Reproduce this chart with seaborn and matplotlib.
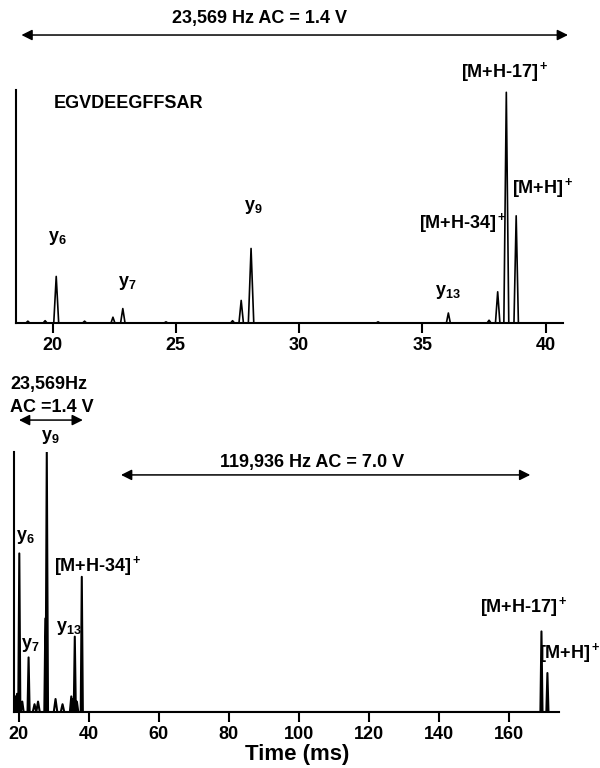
import pandas as pd
import matplotlib
matplotlib.use("Agg")
import matplotlib.pyplot as plt
import seaborn as sns

sns.set_theme(style="white")
plt.rcParams["font.family"] = ["Liberation Sans", "DejaVu Sans"]
plt.rcParams["font.weight"] = "bold"
plt.rcParams["text.color"] = "black"
plt.rcParams["axes.labelcolor"] = "black"
plt.rcParams["mathtext.fontset"] = "custom"
plt.rcParams["mathtext.rm"] = "Liberation Sans:bold"
plt.rcParams["mathtext.it"] = "Liberation Sans:bold"
plt.rcParams["mathtext.bf"] = "Liberation Sans:bold"
plt.rcParams["mathtext.default"] = "rm"

# Single-frequency excitation (23,569 Hz, 1.4 V): peak centroids (ms), heights (%), half widths (ms)
top_time = [19.0, 19.7, 20.15, 21.3, 22.45, 22.85, 24.6, 27.3, 27.65, 28.05,
            33.2, 36.05, 37.7, 38.05, 38.4, 38.8]
top_height = [0.8, 1.0, 20.0, 0.8, 2.5, 6.2, 0.5, 1.0, 9.7, 32.0,
              0.5, 4.3, 1.2, 13.4, 99.0, 46.0]
top_width = [0.08, 0.08, 0.1, 0.08, 0.08, 0.09, 0.08, 0.08, 0.09, 0.11,
             0.08, 0.08, 0.08, 0.09, 0.1, 0.09]

# Two-frequency excitation (23,569 Hz then 119,936 Hz, 7.0 V)
bot_time = [19.0, 19.5, 20.15, 21.0, 22.8, 24.5, 25.5, 27.6, 28.0, 30.5,
            32.5, 35.0, 35.5, 36.0, 36.6, 38.0, 169.3, 171.0]
bot_height = [6.0, 7.0, 61.0, 4.0, 21.0, 3.0, 4.0, 36.0, 100.0, 5.0,
              3.0, 6.0, 5.0, 29.0, 4.0, 52.0, 31.0, 15.0]
bot_width = [0.35, 0.35, 0.3, 0.4, 0.3, 0.5, 0.5, 0.3, 0.35, 0.5,
             0.5, 0.4, 0.4, 0.3, 0.4, 0.3, 0.3, 0.3]

top_ticks = [20, 25, 30, 35, 40]
bot_ticks = [20, 40, 60, 80, 100, 120, 140, 160]


def trace(times, heights, widths):
    """Polyline through baseline-apex-baseline vertices for each peak."""
    xs, ys = [], []
    for t, h, w in zip(times, heights, widths):
        xs += [t - w, t, t + w]
        ys += [0.0, h, 0.0]
    return pd.DataFrame({"time": xs, "intensity": ys})


fig = plt.figure(figsize=(6.0, 7.68), dpi=100)
ax1 = fig.add_axes([0.0267, 0.5794, 0.9117, 0.3034])
ax2 = fig.add_axes([0.0233, 0.0729, 0.9083, 0.3385])

for ax, df, xlim, ticks, lw in [
    (ax1, trace(top_time, top_height, top_width), (18.52, 40.7), top_ticks, 1.2),
    (ax2, trace(bot_time, bot_height, bot_width), (18.63, 174.3), bot_ticks, 1.5),
]:
    sns.lineplot(data=df, x="time", y="intensity", sort=False, estimator=None,
                 color="black", lw=lw, ax=ax)
    ax.set_xlim(*xlim)
    ax.set_ylim(0, 100)
    ax.set_xticks(ticks)
    ax.set_xticklabels([str(t) for t in ticks])
    ax.set_yticks([])
    ax.set_xlabel("")
    ax.set_ylabel("")
    for side in ("top", "right"):
        ax.spines[side].set_visible(False)
    for side in ("left", "bottom"):
        ax.spines[side].set_color("black")
        ax.spines[side].set_linewidth(1.5)
    ax.tick_params(axis="x", direction="out", length=7, width=1.5,
                   labelsize=13, pad=3, colors="black", bottom=True)
    for lbl in ax.get_xticklabels():
        lbl.set_fontweight("bold")

arrow = dict(arrowstyle="<|-|>", lw=1.1, color="black",
             mutation_scale=16, shrinkA=0, shrinkB=0)
fs = 13

# Upper panel annotations
ax1.annotate("", xy=(18.74, 123.6), xytext=(40.9, 123.6),
             arrowprops=arrow, annotation_clip=False)
ax1.text(28.38, 130.5, "23,569 Hz AC = 1.4 V", ha="center", va="center",
         fontsize=fs, fontweight="bold")
ax1.text(20.06, 94.0, "EGVDEEGFFSAR", ha="left", va="center",
         fontsize=fs, fontweight="bold")
ax1.text(20.18, 36.5, r"y$_6$", ha="center", va="center", fontsize=fs)
ax1.text(23.02, 17.2, r"y$_7$", ha="center", va="center", fontsize=fs)
ax1.text(28.14, 49.8, r"y$_9$", ha="center", va="center", fontsize=fs)
ax1.text(36.05, 13.3, r"y$_{13}$", ha="center", va="center", fontsize=fs)
ax1.text(38.4, 42.9, r"[M+H-34]$^+$", ha="right", va="center", fontsize=fs)
ax1.text(38.64, 57.9, r"[M+H]$^+$", ha="left", va="center", fontsize=fs)
ax1.text(38.36, 107.7, r"[M+H-17]$^+$", ha="center", va="center", fontsize=fs)

# Lower panel annotations (y in % of the y9 peak)
ax2.text(17.5, 125.8, "23,569Hz", ha="left", va="center", fontsize=fs)
ax2.text(17.5, 117.3, "AC =1.4 V", ha="left", va="center", fontsize=fs)
ax2.annotate("", xy=(20.06, 112.3), xytext=(38.3, 112.3),
             arrowprops=arrow, annotation_clip=False)
ax2.text(28.9, 105.8, r"y$_9$", ha="center", va="center", fontsize=fs)
ax2.annotate("", xy=(49.2, 91.2), xytext=(166.1, 91.2),
             arrowprops=arrow, annotation_clip=False)
ax2.text(103.8, 95.8, "119,936 Hz AC = 7.0 V", ha="center", va="center",
         fontsize=fs)
ax2.text(19.2, 67.3, r"y$_6$", ha="left", va="center", fontsize=fs)
ax2.text(20.6, 25.8, r"y$_7$", ha="left", va="center", fontsize=fs)
ax2.text(30.6, 32.3, r"y$_{13}$", ha="left", va="center", fontsize=fs)
ax2.text(30.0, 56.2, r"[M+H-34]$^+$", ha="left", va="center", fontsize=fs)
ax2.text(164.4, 40.4, r"[M+H-17]$^+$", ha="center", va="center", fontsize=fs)
ax2.text(168.6, 22.7, r"[M+H]$^+$", ha="left", va="center", fontsize=fs)
ax2.set_xlabel("Time (ms)", fontsize=16, fontweight="bold")
ax2.xaxis.set_label_coords(0.52, -0.165)
ax2.xaxis.label.set_va("center")

fig.savefig("out.png", dpi=100, facecolor="white")
